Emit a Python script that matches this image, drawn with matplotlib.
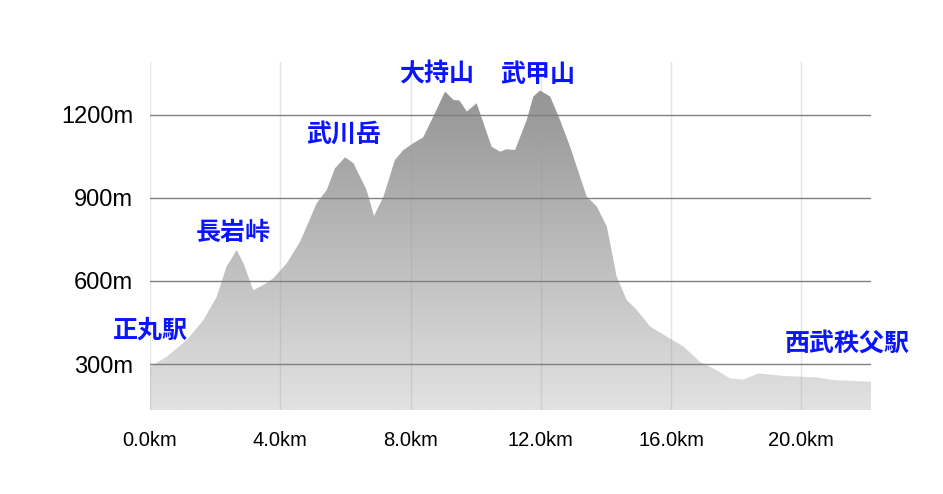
import matplotlib
matplotlib.use('Agg')
import matplotlib.pyplot as plt
from matplotlib.colors import LinearSegmentedColormap
import numpy as np

plt.rcParams['font.family'] = ['Liberation Sans', 'DejaVu Sans']

# elevation profile (km, m)
dist_km = [0.0, 0.51, 1.13, 1.64, 2.05, 2.35, 2.5, 2.66, 2.87, 3.17, 3.48, 3.79,
           4.2, 4.61, 5.12, 5.43, 5.68, 5.99, 6.25, 6.65, 6.88, 7.17, 7.52,
           7.78, 8.09, 8.39, 8.7, 9.06, 9.32, 9.5, 9.73, 10.03, 10.49, 10.75,
           10.95, 11.21, 11.57, 11.77, 11.98, 12.29, 12.59, 12.9, 13.41,
           13.72, 14.03, 14.33, 14.64, 14.95, 15.36, 15.87, 16.38, 16.89,
           17.4, 17.81, 18.22, 18.68, 19.45, 20.47, 20.99, 22.14]
elev_m = [290, 326, 387, 459, 543, 652, 680, 712, 664, 567, 585, 610,
          664, 742, 881, 929, 1007, 1047, 1025, 929, 835, 905, 1037,
          1073, 1098, 1119, 1194, 1284, 1254, 1252, 1212, 1242, 1085, 1067,
          1076, 1073, 1182, 1266, 1288, 1266, 1182, 1085, 905,
          869, 796, 616, 531, 495, 435, 399, 363, 308,
          278, 248, 244, 266, 257, 252, 242, 236]

# place names and where they sit
place_names = ['正丸駅', '長岩峠', '武川岳', '大持山', '武甲山', '西武秩父駅']
place_km = [0.0, 2.55, 5.95, 8.8, 11.9, 21.4]
place_m = [420, 775, 1130, 1345, 1345, 375]

x_ticks = [0, 4, 8, 12, 16, 20]
x_labels = ['0.0km', '4.0km', '8.0km', '12.0km', '16.0km', '20.0km']
y_ticks = [300, 600, 900, 1200]
y_labels = ['300m', '600m', '900m', '1200m']

xmax, ymin, ymax = 22.14, 134, 1391

fig = plt.figure(figsize=(9.43, 4.94), dpi=100)
ax = fig.add_axes([150 / 943, 1 - 410 / 494, 721 / 943, 348 / 494])

# gradient fill clipped to the profile
poly = ax.fill_between(dist_km, elev_m, ymin, color='none', lw=0)
cmap = LinearSegmentedColormap.from_list('g', ['#8e8e8e', '#e2e2e2'])
grad = np.linspace(0, 1, 256).reshape(-1, 1)
img = ax.imshow(grad, cmap=cmap, aspect='auto', extent=[0, xmax, ymin, ymax],
                origin='upper', zorder=1)
img.set_clip_path(poly.get_paths()[0], transform=ax.transData)

for xt in x_ticks:
    ax.axvline(xt, color='#999999', lw=1, alpha=0.25, zorder=2)
for yt in y_ticks:
    ax.axhline(yt, color='#808080', lw=1, zorder=2)

ax.set_xlim(0, xmax)
ax.set_ylim(ymin, ymax)
ax.set_xticks(x_ticks, x_labels, fontsize=14.5)
ax.set_yticks(y_ticks, y_labels, fontsize=17)
ax.tick_params(length=0, pad=12)
ax.tick_params(axis='x', pad=15)
for s in ax.spines.values():
    s.set_visible(False)

for name, km, m in zip(place_names, place_km, place_m):
    ax.text(km, m, name, color='#0a14ff', fontsize=18, fontweight='bold',
            ha='center', va='center', family=['Noto Sans CJK JP'],
            clip_on=False, zorder=5)

fig.savefig('out.png', dpi=100)
